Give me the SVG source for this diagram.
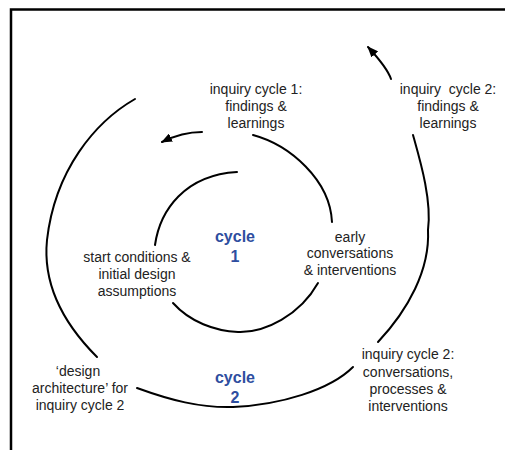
<svg xmlns="http://www.w3.org/2000/svg" width="505" height="450" viewBox="0 0 505 450">
<style>
  .lbl{font-family:"Liberation Sans",Arial,sans-serif;font-size:14px;fill:#222;text-anchor:middle}
  .cyc{font-family:"Liberation Sans",Arial,sans-serif;font-size:16px;font-weight:bold;fill:#2E4EA0;text-anchor:middle}
  .c{fill:none;stroke:#000;stroke-width:2;stroke-linecap:round}
</style>
<defs>
  <marker id="ah" markerUnits="userSpaceOnUse" markerWidth="11" markerHeight="9" refX="10" refY="4.5" orient="auto">
    <path d="M0,0 L11,4.5 L0,9 z" fill="#000"/>
  </marker>
</defs>
<rect width="505" height="450" fill="#fff"/>
<path d="M11,450 V9.5 H505" fill="none" stroke="#000" stroke-width="2.5"/>
<g id="connectors">
  <path class="c" d="M135,99 C95,122 55,170 47,240 C42,290 70,330 97,357"/>
  <path class="c" d="M253,135 C290,145 330,180 332,222"/>
  <path class="c" d="M318,283 C300,315 265,333 238,332 C215,331 190,322 173,303"/>
  <path class="c" d="M237,172 C185,175 160,210 155,245"/>
  <path class="c" d="M413,135 C420,160 432,200 428,230 C430,270 408,310 378,342"/>
  <path class="c" d="M137,388 C170,400 200,408 233,407 C280,405 330,390 353,367"/>
  <path class="c" d="M391,79 C388,70 380,60 368,47" marker-end="url(#ah)"/>
  <path class="c" d="M202,132 C190,132 178,134 162,142" marker-end="url(#ah)"/>
</g>
<g id="n-ic1-findings">
  <text class="lbl" x="256" y="94">inquiry cycle 1:</text>
  <text class="lbl" x="256" y="111">findings &amp;</text>
  <text class="lbl" x="256" y="128">learnings</text>
</g>
<g id="n-ic2-findings">
  <text class="lbl" x="448" y="94" style="white-space:pre">inquiry  cycle 2:</text>
  <text class="lbl" x="448" y="111">findings &amp;</text>
  <text class="lbl" x="448" y="128">learnings</text>
</g>
<g id="n-cycle1">
  <text class="cyc" x="235" y="242">cycle</text>
  <text class="cyc" x="235" y="262">1</text>
</g>
<g id="n-start">
  <text class="lbl" x="137" y="262">start conditions &amp;</text>
  <text class="lbl" x="137" y="279">initial design</text>
  <text class="lbl" x="137" y="296">assumptions</text>
</g>
<g id="n-early">
  <text class="lbl" x="350" y="242">early</text>
  <text class="lbl" x="350" y="258">conversations</text>
  <text class="lbl" x="350" y="275">&amp; interventions</text>
</g>
<g id="n-design-arch">
  <text class="lbl" x="78" y="376">‘design</text>
  <text class="lbl" x="80" y="393">architecture’ for</text>
  <text class="lbl" x="80" y="410">inquiry cycle 2</text>
</g>
<g id="n-cycle2">
  <text class="cyc" x="235" y="383">cycle</text>
  <text class="cyc" x="235" y="403">2</text>
</g>
<g id="n-ic2-conv">
  <text class="lbl" x="408" y="359">inquiry cycle 2:</text>
  <text class="lbl" x="408" y="377">conversations,</text>
  <text class="lbl" x="408" y="394">processes &amp;</text>
  <text class="lbl" x="408" y="411">interventions</text>
</g>
</svg>
